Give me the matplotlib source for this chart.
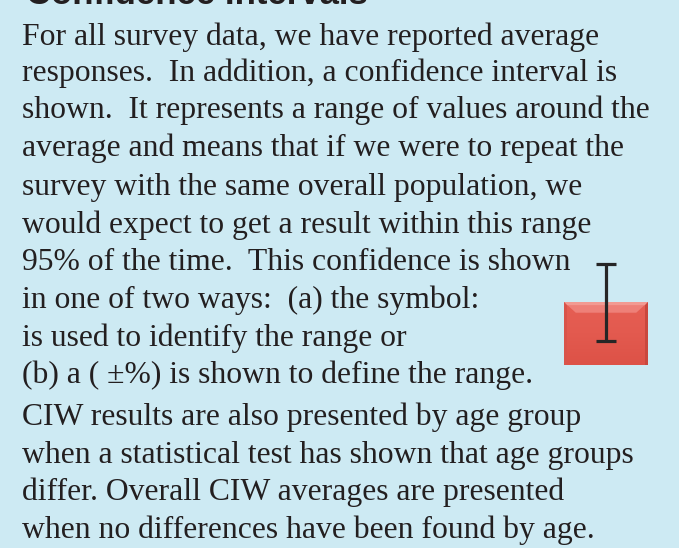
import numpy as np
import matplotlib.pyplot as plt
from matplotlib.colors import LinearSegmentedColormap
from matplotlib.patches import Polygon

# Text content
title = 'Confidence Intervals'
lines = [
    'For all survey data, we have reported average',
    'responses.  In addition, a confidence interval is',
    'shown.  It represents a range of values around the',
    'average and means that if we were to repeat the',
    'survey with the same overall population, we',
    'would expect to get a result within this range',
    '95% of the time.  This confidence is shown',
    'in one of two ways:  (a) the symbol:',
    'is used to identify the range or',
    '(b) a ( \u00b1%) is shown to define the range.',
    'CIW results are also presented by age group',
    'when a statistical test has shown that age groups',
    'differ. Overall CIW averages are presented',
    'when no differences have been found by age.',
]
line_y = [37, 73, 110, 148, 187, 225, 263, 300, 338, 375, 417, 455, 492, 530]

# Example bar with confidence interval
bar_value = [1.0]
ci_low = [0.62]
ci_high = [0.60]

bg = '#cdeaf3'
ink = '#231f20'
W, H = 679, 548

fig = plt.figure(figsize=(W / 100, H / 100), dpi=100, facecolor=bg)
ax = fig.add_axes([0, 0, 1, 1])
ax.set_xlim(0, W)
ax.set_ylim(H, 0)
ax.axis('off')

# title sits mostly above the top edge, as in the cropped original
ax.text(26, 3.5, title, fontsize=25, fontweight='bold', family='Liberation Sans',
        color=ink, va='baseline', ha='left')
for s, y in zip(lines, line_y):
    ax.text(22, y, s, fontsize=22.8, family='Liberation Serif', color=ink,
            va='center', ha='left')

# icon axes: bar spans x 564-648, y 302-365 px
x0, x1, ytop, ybot = 564, 648, 255, 365
iax = fig.add_axes([x0 / W, 1 - ybot / H, (x1 - x0) / W, (ybot - ytop) / H])
iax.set_xlim(-0.5, 0.5)
ymax = (ybot - ytop) / 63
iax.axis('off')
bars = iax.bar([0], bar_value, width=1.0, color='#e2584d', edgecolor='none')
grad = np.linspace(0, 1, 60).reshape(-1, 1)
cmap = LinearSegmentedColormap.from_list('r', ['#dd5247', '#e35a4f', '#e65f54'])
img = iax.imshow(grad, extent=(-0.5, 0.5, 0, bar_value[0]), aspect='auto',
                 cmap=cmap, origin='lower', zorder=1)
img.set_clip_path(bars[0])
# bevel highlights
top = bar_value[0]
iax.add_patch(Polygon([(-0.5, top), (0.5, top), (0.36, top - 0.17), (-0.36, top - 0.17)],
                      closed=True, facecolor='#ee8078', edgecolor='none', zorder=2))
iax.add_patch(Polygon([(-0.5, top), (0.5, top), (0.47, top - 0.05), (-0.47, top - 0.05)],
                      closed=True, facecolor='#f29a92', edgecolor='none', zorder=2))
iax.add_patch(Polygon([(0.5, top), (0.5, 0), (0.46, 0), (0.46, top - 0.05)],
                      closed=True, facecolor='#c9483e', edgecolor='none', zorder=2))
iax.add_patch(Polygon([(-0.5, top), (-0.5, 0), (-0.47, 0), (-0.47, top - 0.05)],
                      closed=True, facecolor='#d9544a', edgecolor='none', zorder=2))
iax.set_ylim(0, ymax)
iax.errorbar([0], bar_value, yerr=[ci_low, ci_high], fmt='none', ecolor='#262626',
             elinewidth=2.3, capsize=7.2, capthick=2.3, zorder=3)

fig.savefig('out.png', dpi=100, facecolor=bg)
